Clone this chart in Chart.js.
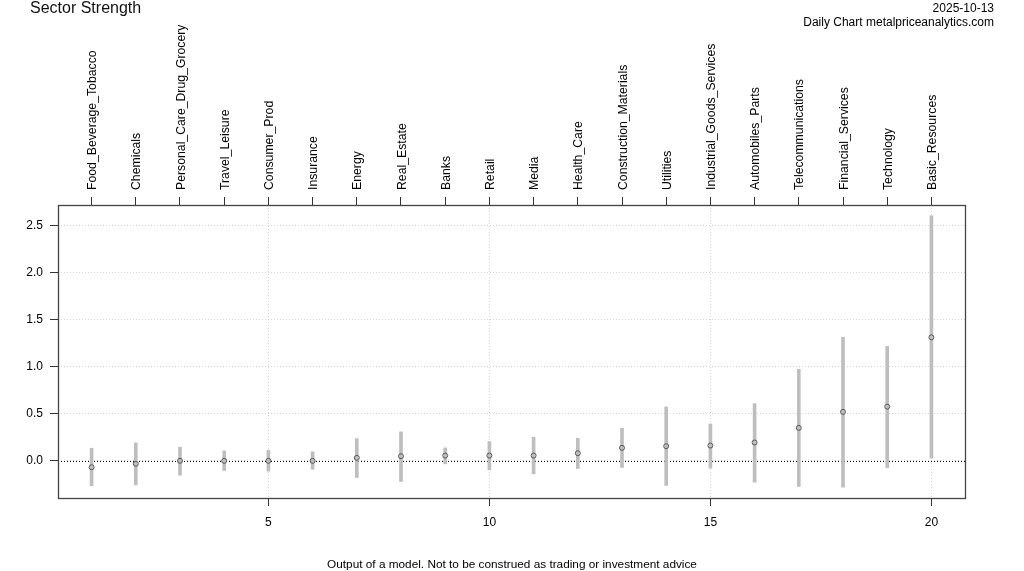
<!DOCTYPE html>
<html>
<head>
<meta charset="utf-8">
<title>Sector Strength</title>
<script src="https://cdn.jsdelivr.net/npm/chart.js@4.4.1/dist/chart.umd.min.js"></script>
<style>
  html, body { margin: 0; padding: 0; background: #ffffff; }
  #wrap { width: 1024px; height: 571px; }
</style>
</head>
<body>
<div id="wrap"><canvas id="c" width="1024" height="571"></canvas></div>
<script>
// sectors, ordered by strength (x = 1..20)
const sectors = [
	'Food_Beverage_Tobacco','Chemicals','Personal_Care_Drug_Grocery','Travel_Leisure','Consumer_Prod',
	'Insurance','Energy','Real_Estate','Banks','Retail',
	'Media','Health_Care','Construction_Materials','Utilities','Industrial_Goods_Services',
	'Automobiles_Parts','Telecommunications','Financial_Services','Technology','Basic_Resources'
];
// model estimate and interval ends
const strength = [-0.068,-0.032,0.000,0.000,0.000,0.000,0.032,0.049,0.056,0.056,
	0.056,0.081,0.138,0.156,0.163,0.195,0.351,0.521,0.577,1.314];
const upper = [0.134,0.191,0.145,0.106,0.113,0.096,0.237,0.308,0.138,0.205,
	0.251,0.240,0.347,0.574,0.393,0.609,0.974,1.314,1.218,2.607];
const lower = [-0.266,-0.255,-0.153,-0.103,-0.110,-0.089,-0.177,-0.220,-0.032,-0.096,
	-0.138,-0.082,-0.071,-0.262,-0.078,-0.227,-0.273,-0.280,-0.074,0.028];

const xTicks = [5,10,15,20];
const yTicks = [0,0.5,1,1.5,2,2.5];

const title = 'Sector Strength';
const dateLabel = '2025-10-13';
const source = 'Daily Chart metalpriceanalytics.com';
const footer = 'Output of a model. Not to be construed as trading or investment advice';

// R style axis range: data range padded by 4% each side
function extend(lo,hi){ var d=(hi-lo)*0.04; return [lo-d,hi+d]; }
const xr = extend(1,sectors.length);
const yr = extend(Math.min.apply(null,lower),Math.max.apply(null,upper));

const font = '"Liberation Sans", Arial, sans-serif';
Chart.defaults.font.family = font;
Chart.defaults.font.size = 12;
Chart.defaults.color = '#000000';

const idx = sectors.map(function(s,i){ return i+1; });

const decor = {
	id: 'decor',
	beforeDatasetsDraw: function(chart){
		var ctx = chart.ctx, a = chart.chartArea, y0 = chart.scales.y.getPixelForValue(0);
		ctx.save();
		ctx.strokeStyle = '#000000';
		ctx.lineWidth = 1;
		ctx.setLineDash([1,2]);
		ctx.beginPath();
		ctx.moveTo(a.left,Math.round(y0)+0.5);
		ctx.lineTo(a.right,Math.round(y0)+0.5);
		ctx.stroke();
		ctx.restore();
	},
	afterDraw: function(chart){
		var ctx = chart.ctx, a = chart.chartArea;
		ctx.save();
		// plot box
		ctx.strokeStyle = '#444444';
		ctx.lineWidth = 1.3;
		ctx.strokeRect(Math.round(a.left)+0.5,Math.round(a.top)+0.5,Math.round(a.right-a.left),Math.round(a.bottom-a.top));
		// texts
		ctx.fillStyle = '#111111';
		ctx.textBaseline = 'alphabetic';
		ctx.font = '16px ' + font;
		ctx.textAlign = 'left';
		ctx.fillText(title,30,13);
		ctx.fillStyle = '#000000';
		ctx.font = '12px ' + font;
		ctx.textAlign = 'right';
		ctx.fillText(dateLabel,994,12);
		ctx.fillText(source,994,26);
		ctx.font = '11.8px ' + font;
		ctx.textAlign = 'center';
		ctx.fillText(footer,512,568);
		ctx.restore();
	}
};

new Chart(document.getElementById('c'),{
	type: 'bar',
	data: {
		datasets: [{
			type: 'scatter',
			order: 0,
			data: idx.map(function(x,i){ return {x:x,y:strength[i]}; }),
			pointRadius: 2.5,
			pointHoverRadius: 2.5,
			pointBorderWidth: 1,
			pointBorderColor: '#555555',
			pointBackgroundColor: 'rgba(0,0,0,0)',
			xAxisID: 'x',
			yAxisID: 'y'
		},{
			type: 'bar',
			order: 1,
			data: idx.map(function(x,i){ return {x:x,y:[lower[i],upper[i]]}; }),
			backgroundColor: '#BEBEBE',
			borderWidth: 0,
			barThickness: 3,
			grouped: false,
			xAxisID: 'x',
			yAxisID: 'y'
		}]
	},
	options: {
		responsive: false,
		animation: false,
		devicePixelRatio: 1,
		layout: {padding: {left:0,top:0,right:59,bottom:0}},
		plugins: {legend:{display:false}, tooltip:{enabled:false}},
		scales: {
			x: {
				type: 'linear', position: 'bottom', min: xr[0], max: xr[1], offset: false,
				afterBuildTicks: function(s){ s.ticks = xTicks.map(function(v){ return {value:v}; }); },
				afterFit: function(s){ s.height = 73; },
				grid: {offset:false, color:'#d6d6d6', lineWidth:1, tickColor:'#333333', tickLength:8},
				border: {display:false, dash:[1,2]},
				ticks: {padding:9, maxRotation:0, autoSkip:false, callback: function(v){ return String(v); }}
			},
			xTop: {
				type: 'linear', position: 'top', min: xr[0], max: xr[1], offset: false,
				afterBuildTicks: function(s){ s.ticks = idx.map(function(v){ return {value:v}; }); },
				afterFit: function(s){ s.height = 205; },
				grid: {offset:false, drawOnChartArea:false, tickColor:'#333333', tickLength:8},
				border: {display:false},
				ticks: {padding:7, minRotation:90, maxRotation:90, autoSkip:false, labelOffset:16,
					font: {size:12.25},
					callback: function(v){ return sectors[Math.round(v)-1] || ''; }}
			},
			y: {
				type: 'linear', position: 'left', min: yr[0], max: yr[1],
				afterBuildTicks: function(s){ s.ticks = yTicks.map(function(v){ return {value:v}; }); },
				afterFit: function(s){ s.width = 58; },
				grid: {color:'#d6d6d6', lineWidth:1, tickColor:'#333333', tickLength:8},
				border: {display:false, dash:[1,2]},
				ticks: {padding:7, callback: function(v){ return v.toFixed(1); }}
			}
		}
	},
	plugins: [decor]
});
</script>
</body>
</html>
